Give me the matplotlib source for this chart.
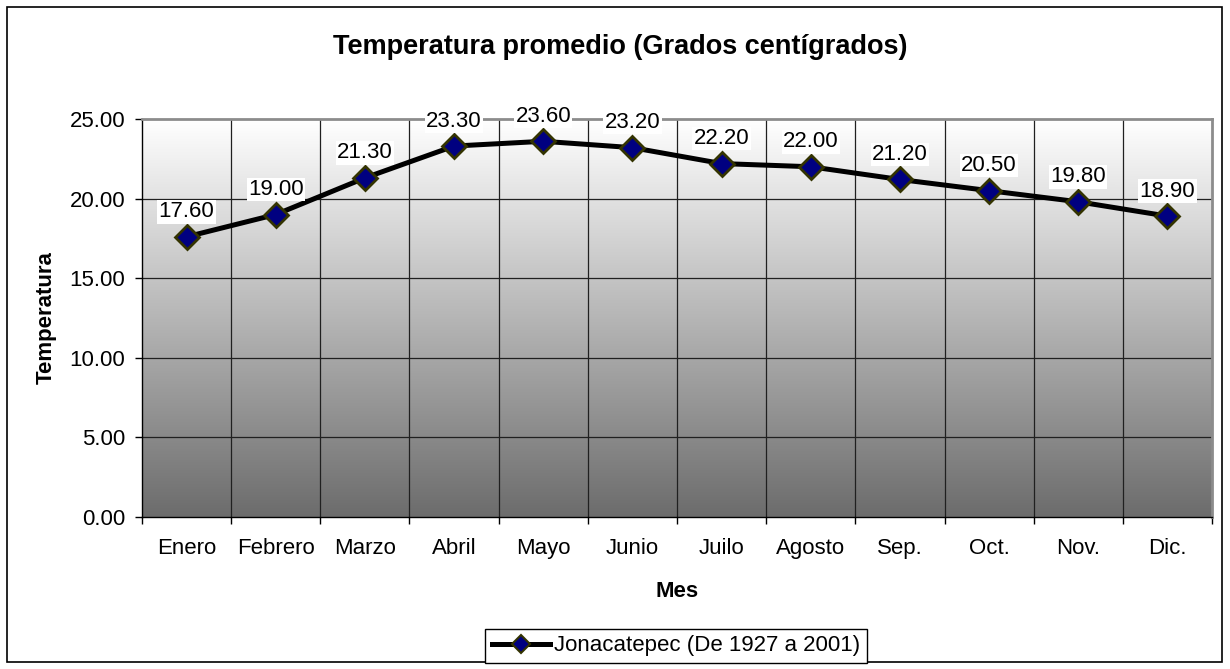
import numpy as np
import matplotlib.pyplot as plt
from matplotlib.lines import Line2D
from matplotlib.patches import Rectangle
from matplotlib.colors import LinearSegmentedColormap

plt.rcParams['font.family'] = ['Liberation Sans', 'DejaVu Sans']

meses = ['Enero', 'Febrero', 'Marzo', 'Abril', 'Mayo', 'Junio', 'Juilo',
         'Agosto', 'Sep.', 'Oct.', 'Nov.', 'Dic.']
temperatura = [17.6, 19.0, 21.3, 23.3, 23.6, 23.2, 22.2, 22.0, 21.2, 20.5, 19.8, 18.9]
serie = 'Jonacatepec (De 1927 a 2001)'
yticks = [0, 5, 10, 15, 20, 25]

fig = plt.figure(figsize=(12.3, 6.69), dpi=100)
# marco exterior
fig.patches.append(Rectangle((7 / 1230, 7 / 669), 1215 / 1230, 655 / 669,
                             transform=fig.transFigure, fill=False,
                             edgecolor='black', linewidth=1.2))

ax = fig.add_axes([142 / 1230, 1 - 517 / 669, 1070 / 1230, 398 / 669])
x = np.arange(len(meses))

# fondo degradado
grad = np.linspace(0, 1, 256).reshape(-1, 1)
cmap = LinearSegmentedColormap.from_list('g', ['#ffffff', '#6c6c6c'])
ax.imshow(grad, extent=[-0.5, len(meses) - 0.5, 0, 25], aspect='auto',
          cmap=cmap, origin='upper', zorder=0, interpolation='bicubic')

ax.set_xlim(-0.5, len(meses) - 0.5)
ax.set_ylim(0, 25)

# rejilla
for b in np.arange(0.5, len(meses) - 0.5):
    ax.axvline(b, color='#202020', linewidth=0.9, zorder=1)
for yv in yticks[1:-1]:
    ax.axhline(yv, color='#202020', linewidth=0.9, zorder=1)

ax.plot(x, temperatura, color='black', linewidth=3.6, marker='D', markersize=12,
        markerfacecolor='#000080', markeredgecolor='#333300', markeredgewidth=2,
        zorder=3, solid_joinstyle='round')

for xi, v in zip(x, temperatura):
    ax.annotate(f'{v:.2f}', (xi, v), xytext=(0, 18), textcoords='offset points',
                ha='center', va='center', fontsize=16,
                bbox=dict(facecolor='white', edgecolor='none', pad=1), zorder=4)

ax.set_xticks(x)
ax.set_xticklabels(meses, fontsize=16)
ax.set_xticks(np.arange(-0.5, len(meses)), minor=True)
ax.tick_params(axis='x', which='major', length=0, pad=15)
ax.tick_params(axis='x', which='minor', length=5, direction='out', width=1)
ax.set_yticks(yticks)
ax.set_yticklabels([f'{t:.2f}' for t in yticks], fontsize=16)
ax.tick_params(axis='y', length=5, direction='out', width=1, pad=7)

for s in ['top', 'right']:
    ax.spines[s].set_color('#8c8c8c')
    ax.spines[s].set_linewidth(2)
for s in ['left', 'bottom']:
    ax.spines[s].set_color('black')
    ax.spines[s].set_linewidth(1)

ax.set_xlabel('Mes', fontsize=16, fontweight='bold', labelpad=16)
ax.set_ylabel('Temperatura', fontsize=16, fontweight='bold', labelpad=9)
fig.text(620 / 1230, 1 - 47 / 669, 'Temperatura promedio (Grados centígrados)',
         ha='center', va='center', fontsize=19.5, fontweight='bold')

h = Line2D([], [], color='black', linewidth=3.6, marker='D', markersize=9,
           markerfacecolor='#000080', markeredgecolor='#333300', markeredgewidth=1.5)
leg = fig.legend([h], [serie], loc='center', bbox_to_anchor=(676 / 1230, 1 - 646 / 669),
                 fontsize=16, frameon=True, fancybox=False, framealpha=1,
                 edgecolor='black', handlelength=2.6, borderpad=0.3, handletextpad=0.2)
leg.get_frame().set_linewidth(1)

fig.savefig('out.png', dpi=100)
